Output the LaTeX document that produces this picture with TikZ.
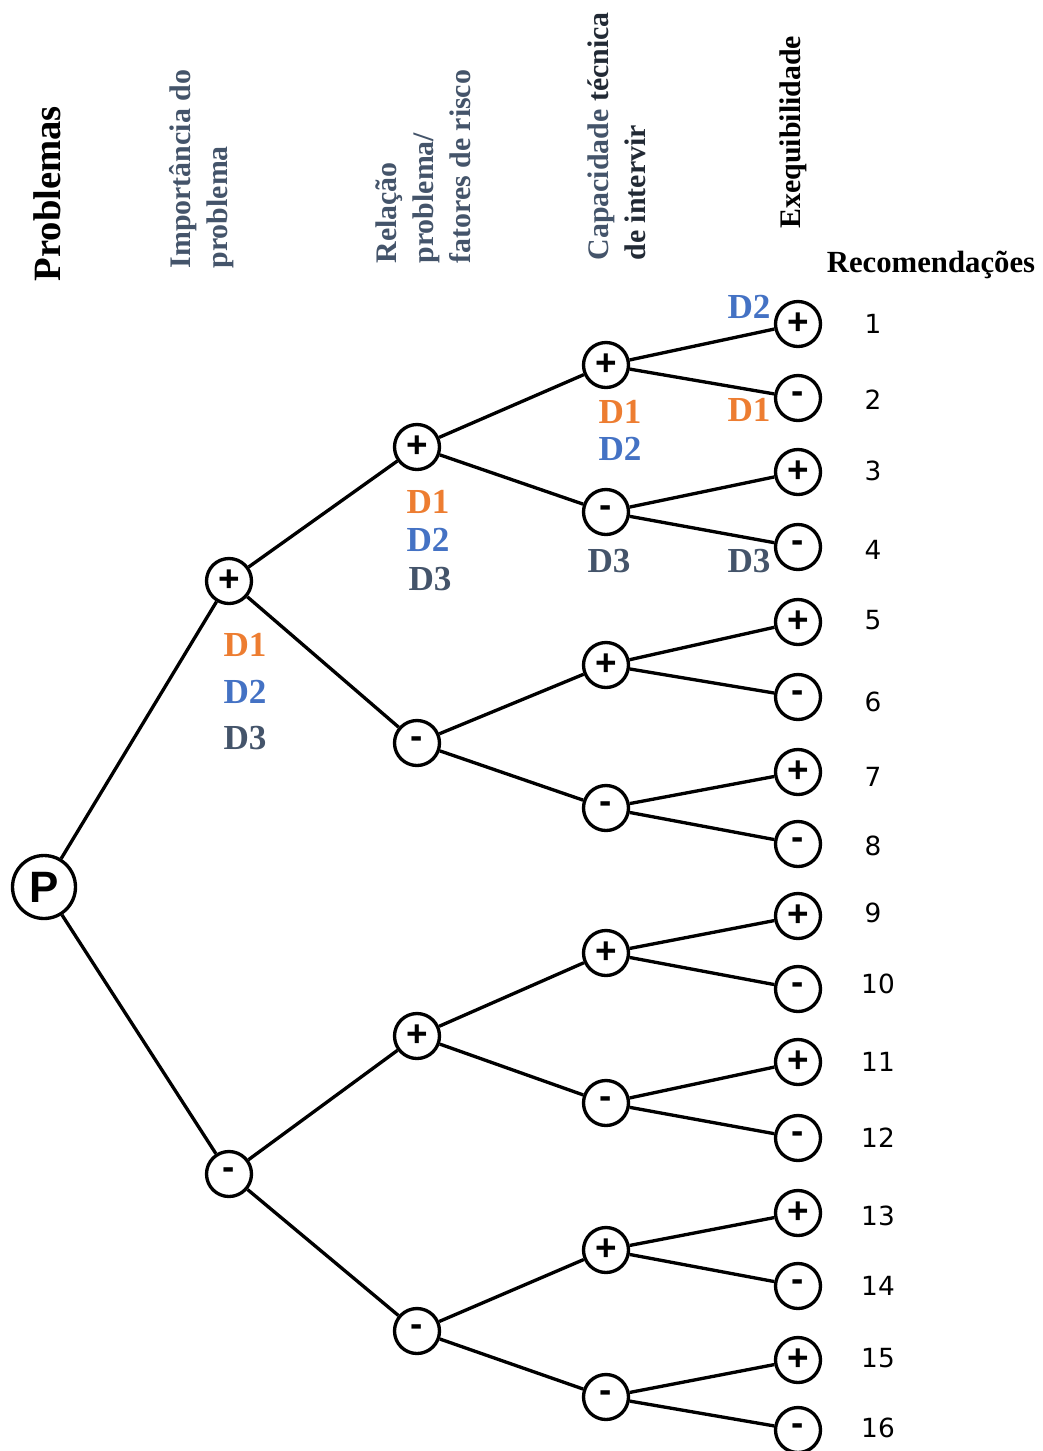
\documentclass[tikz,border=0pt]{standalone}
\usepackage{fontspec}
\setmainfont{Liberation Serif}
\newfontfamily\signfont{Liberation Sans}
\newfontfamily\numfont{DejaVu Sans}
\usepackage{xcolor}
\usepackage{tikz}
\usetikzlibrary{positioning}
\definecolor{orangeD}{HTML}{ED7D31}
\definecolor{blueD}{HTML}{4472C4}
\definecolor{slateD}{HTML}{44546A}
\definecolor{darkD}{HTML}{222A35}
\tikzstyle{every picture}+=[line width=1.9pt]
\tikzset{
	knot/.style={draw, circle, line width=1.9pt, minimum size=0.9cm, inner sep=0pt, fill=white,
		font=\signfont\bfseries\fontsize{21}{21}\selectfont},
	root/.style={knot, minimum size=1.26cm, font=\signfont\bfseries\fontsize{25}{25}\selectfont},
	header/.style={rotate=90, anchor=west, align=left, inner sep=0pt,
		font=\bfseries\fontsize{17}{21}\selectfont},
	dlabel/.style={inner sep=0pt, font=\bfseries\fontsize{20}{20}\selectfont},
	numlabel/.style={inner sep=0pt, font=\numfont\fontsize{15}{15}\selectfont}
}

\begin{document}
\begin{tikzpicture}
	[x=0.02cm, y=-0.02cm]

	\useasboundingbox (0,0) rectangle (1043,1451);

	% column headers
	\begin{scope}
		\node[header, font=\bfseries\fontsize{22}{26}\selectfont] (hprob) at (47,283) {Problemas};
		\node[header, text=slateD] (himp) at (202,270) {Importância do\\problema};
		\node[header, text=slateD] (hrel) at (423,265) {Relação\\problema/\\fatores de risco};
		\node[header] (hcap) at (617,262) {\textcolor{slateD}{Capacidade} \textcolor{darkD}{técnica}\\\textcolor{darkD}{de intervir}};
		\node[header] (hexe) at (793,230) {Exequibilidade};
		\node[inner sep=0pt, font=\bfseries\fontsize{17.5}{21}\selectfont] (hrec) at (931,265) {Recomendações};
	\end{scope}

	% tree
	\begin{scope}
		\node[root] (P) at (44,887) {P};

		% level 1
		\foreach \n/\y/\s in {1/581/+, 2/1174/-} {
			\node[knot] (a\n) at (229,\y) {\s};
			\draw (P) -- (a\n);
		}

		% level 2
		\foreach \n/\y/\s in {1/447/+, 2/743/-, 3/1036/+, 4/1331/-} {
			\pgfmathtruncatemacro\Parent{(\n+1)/2}
			\node[knot] (b\n) at (417,\y) {\s};
			\draw (a\Parent) -- (b\n);
		}

		% level 3
		\foreach \n/\y/\s in {1/365/+, 2/512/-, 3/665/+, 4/808/-, 5/953/+, 6/1103/-, 7/1250/+, 8/1397/-} {
			\pgfmathtruncatemacro\Parent{(\n+1)/2}
			\node[knot] (c\n) at (606,\y) {\s};
			\draw (b\Parent) -- (c\n);
		}

		% level 4
		\foreach \n/\y/\s in {1/324/+, 2/398/-, 3/472/+, 4/547/-, 5/622/+, 6/697/-, 7/772/+, 8/844/-,
			9/916/+, 10/989/-, 11/1062/+, 12/1138/-, 13/1213/+, 14/1286/-, 15/1360/+, 16/1430/-} {
			\pgfmathtruncatemacro\Parent{(\n+1)/2}
			\node[knot] (d\n) at (798,\y) {\s};
			\draw (c\Parent) -- (d\n);
		}
	\end{scope}

	% recommendation numbers
	\begin{scope}
		\foreach \n/\y in {1/324, 2/400, 3/471, 4/550, 5/620, 6/702, 7/777, 8/846, 9/913} {
			\node[numlabel] (r\n) at (873,\y) {\n};
		}
		\foreach \n/\y in {10/984, 11/1062, 12/1138, 13/1216, 14/1286, 15/1358, 16/1428} {
			\node[numlabel] (r\n) at (878,\y) {\n};
		}
	\end{scope}

	% decision labels
	\begin{scope}
		\node[dlabel, text=orangeD] (la1) at (245,645) {D1};
		\node[dlabel, text=blueD] (la2) at (245,692) {D2};
		\node[dlabel, text=slateD] (la3) at (245,738) {D3};

		\node[dlabel, text=orangeD] (lb1) at (428,502) {D1};
		\node[dlabel, text=blueD] (lb2) at (428,540) {D2};
		\node[dlabel, text=slateD] (lb3) at (430,579) {D3};

		\node[dlabel, text=orangeD] (lc1) at (620,412) {D1};
		\node[dlabel, text=blueD] (lc2) at (620,449) {D2};
		\node[dlabel, text=slateD] (lc3) at (609,561) {D3};

		\node[dlabel, text=blueD] (ld1) at (749,307) {D2};
		\node[dlabel, text=orangeD] (ld2) at (749,410) {D1};
		\node[dlabel, text=slateD] (ld4) at (749,561) {D3};
	\end{scope}

\end{tikzpicture}
\end{document}
